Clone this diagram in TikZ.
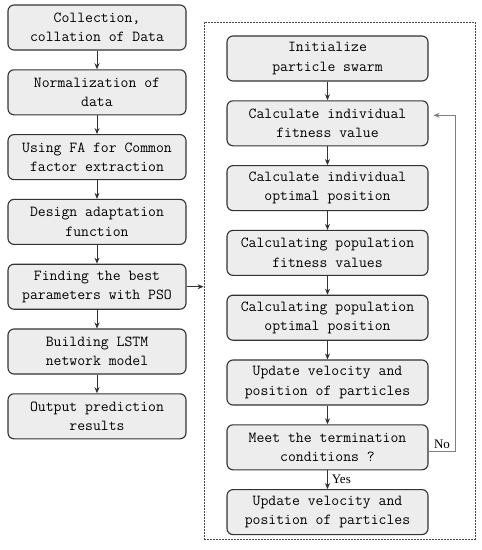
\documentclass[tikz,border=0pt]{standalone}
\usepackage{fontspec}
\usepackage{xcolor}
\usepackage{tikz}
\usetikzlibrary{arrows.meta,positioning}
\newfontfamily\lblfont{Liberation Serif}
\definecolor{boxfill}{HTML}{EDEDED}
\definecolor{boxline}{HTML}{333333}
\tikzset{
  block/.style={rectangle,draw=boxline,line width=1.1pt,rounded corners=6pt,
    align=center,fill=boxfill,inner sep=2pt,minimum height=45pt,
    font=\ttfamily\fontsize{15.3}{19.3}\selectfont},
  lblock/.style={block,minimum width=178pt},
  rblock/.style={block,minimum width=201pt},
  frame/.style={rectangle,draw=boxline!90,dashed,dash pattern=on 2pt off 1pt,
    line width=0.9pt,minimum width=271pt,minimum height=517pt,inner sep=0pt},
  arrow/.style={-{Stealth[length=6pt,width=5pt]},line width=0.8pt,draw=boxline},
  loop/.style={-{Stealth[length=6pt,width=5pt]},line width=0.6pt,draw=gray},
  lbl/.style={font=\lblfont\fontsize{13}{15}\selectfont,inner sep=2pt},
}
\begin{document}
\begin{tikzpicture}[node distance=18.7pt]
\useasboundingbox (0,0) rectangle (482pt,-550pt);
% left column
\node[lblock] (collect) at (97pt,-27.5pt) {Collection,\\collation of Data};
\node[lblock,below=of collect] (norm) {Normalization of\\data};
\node[lblock,below=of norm] (fa) {Using FA for Common\\factor extraction};
\node[lblock,below=of fa] (design) {Design adaptation\\function};
\node[lblock,below=of design] (find) {Finding the best\\parameters with PSO};
\node[lblock,below=of find] (lstm) {Building LSTM\\network model};
\node[lblock,below=of lstm] (output) {Output prediction\\results};

% PSO frame
\node[frame] (pso) at (339.5pt,-280.5pt) {};

% right column
\node[rblock] (init) at (327.5pt,-58.5pt) {Initialize\\particle swarm};
\node[rblock,below=of init] (indfit) {Calculate individual\\fitness value};
\node[rblock,below=of indfit] (indpos) {Calculate individual\\optimal position};
\node[rblock,below=of indpos] (popfit) {Calculating population\\fitness values};
\node[rblock,below=of popfit] (poppos) {Calculating population\\optimal position};
\node[rblock,below=of poppos] (update) {Update velocity and\\position of particles};
\node[rblock,below=of update] (meet) {Meet the termination\\conditions ?};
\node[rblock,below=of meet] (final) {Update velocity and\\position of particles};

\draw[arrow] (collect) -- (norm);
\draw[arrow] (norm) -- (fa);
\draw[arrow] (fa) -- (design);
\draw[arrow] (design) -- (find);
\draw[arrow] (find) -- (lstm);
\draw[arrow] (lstm) -- (output);
\draw[arrow] (find.east) -- (find.east -| pso.west);

\draw[arrow] (init) -- (indfit);
\draw[arrow] (indfit) -- (indpos);
\draw[arrow] (indpos) -- (popfit);
\draw[arrow] (popfit) -- (poppos);
\draw[arrow] (poppos) -- (update);
\draw[arrow] (update) -- (meet);
\draw[arrow] (meet) -- node[lbl,right,xshift=2pt] {Yes} (final);
% loop back
\draw[loop] ([yshift=-4pt]meet.east) -- node[lbl,above] {No} ++(27pt,0)
  |- ([xshift=5pt,yshift=8pt]indfit.east);
\end{tikzpicture}
\end{document}
